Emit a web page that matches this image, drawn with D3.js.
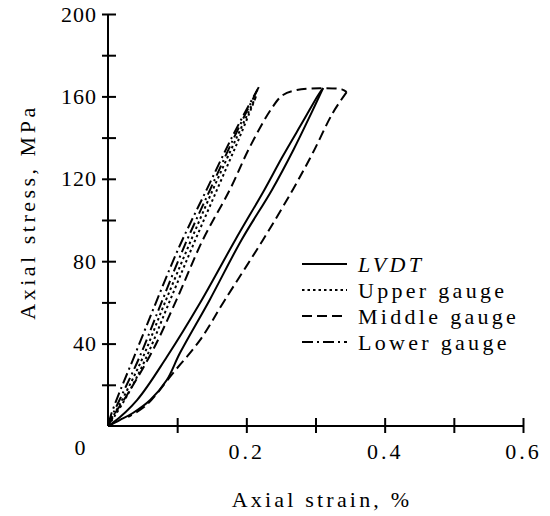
<!DOCTYPE html>
<html><head><meta charset="utf-8">
<script src="https://cdn.jsdelivr.net/npm/d3@7"></script>
<style>
body{margin:0;background:#fff;}
text{font-family:"Liberation Serif","Times New Roman",serif;fill:#000;}
</style></head>
<body><svg id="chart" width="550" height="516"></svg>
<script>
// Data: [axial strain %, axial stress MPa]
const lvdtLoad = [[0,0],[0.017,2.9],[0.036,6.3],[0.061,12.6],[0.085,22.3],[0.104,35.4],[0.147,61.2],[0.193,90.3],[0.237,114.6],[0.268,134],[0.294,151.9],[0.311,164]];
const lvdtUnload = [[0.311,164],[0.304,160.7],[0.283,148.5],[0.252,130.6],[0.226,114.6],[0.184,90.3],[0.133,59.7],[0.085,33.5],[0.042,12.6],[0.007,1.5],[0,0]];
const middleLoad = [[0,0],[0.007,4.4],[0.032,17.5],[0.065,36.9],[0.099,61.2],[0.137,90.3],[0.176,114.6],[0.205,135.4],[0.237,154.4],[0.253,160.7],[0.273,163.1],[0.306,164],[0.338,163.4],[0.345,162.1]];
const middleUnload = [[0.345,162.1],[0.325,152],[0.296,132.5],[0.267,114.6],[0.224,90.3],[0.169,61.2],[0.133,41.7],[0.094,25.7],[0.055,10],[0.029,4.4]];
const lowerLoad = [[0,0],[0.006,5],[0.02,15],[0.045,33],[0.075,58],[0.11,87],[0.148,115],[0.185,142],[0.218,164.5]];
const lowerUnload = [[0.218,164.5],[0.182,142],[0.143,115],[0.103,87],[0.067,58],[0.037,33],[0.015,15],[0.004,5],[0,0]];
const upperLoad = [[0,0],[0.01,5],[0.028,15],[0.055,33],[0.086,58],[0.122,87],[0.158,115],[0.19,140],[0.214,160]];
const upperUnload = [[0.214,160],[0.186,140],[0.152,115],[0.116,87],[0.08,58],[0.05,33],[0.024,15],[0.008,5],[0,0]];

const xTicks = [0.1,0.2,0.3,0.4,0.5,0.6];
const xTickLabels = {0.2:"0.2",0.4:"0.4",0.6:"0.6"};
const yTicks = [20,40,60,80,100,120,140,160,180,200];
const yTickLabels = {40:"40",80:"80",120:"120",160:"160",200:"200"};
const legendNames = ["LVDT","Upper gauge","Middle gauge","Lower gauge"];
const legendDash = ["none","2.5,3","10,5","11,4,2,4"];

const series = [
  {pts:lvdtLoad, dash:legendDash[0]},
  {pts:lvdtUnload, dash:legendDash[0]},
  {pts:upperLoad, dash:legendDash[1]},
  {pts:upperUnload, dash:legendDash[1]},
  {pts:middleLoad, dash:legendDash[2]},
  {pts:middleUnload, dash:legendDash[2]},
  {pts:lowerLoad, dash:legendDash[3]},
  {pts:lowerUnload, dash:legendDash[3]}
];

const svg = d3.select("#chart");
const x = d3.scaleLinear().domain([0,0.6]).range([108,523]);
const y = d3.scaleLinear().domain([0,200]).range([426,14]);

// Y axis
const ya = svg.append("g").attr("transform","translate(108,0)")
  .call(d3.axisLeft(y).tickValues(yTicks).tickSize(6).tickFormat(d=>yTickLabels[d]||""));
ya.select(".domain").attr("d",`M0,${y(0)}V${y(200)}`).attr("stroke","#000").attr("stroke-width",2);
ya.selectAll(".tick line").attr("x1",-6).attr("x2",8).attr("stroke","#000").attr("stroke-width",2);
ya.selectAll(".tick text").attr("x",-11).style("font-size","22px").style("letter-spacing","1px");

// X axis
const xa = svg.append("g").attr("transform","translate(0,426)")
  .call(d3.axisBottom(x).tickValues(xTicks).tickSize(7).tickFormat(d=>xTickLabels[d]||""));
xa.select(".domain").attr("d",`M${x(0)},0H${x(0.6)}`).attr("stroke","#000").attr("stroke-width",2);
xa.selectAll(".tick line").attr("y1",-8).attr("y2",7).attr("stroke","#000").attr("stroke-width",2);
xa.selectAll(".tick text").attr("y",17).style("font-size","22px").style("letter-spacing","3px");

// origin label
svg.append("text").attr("x",80).attr("y",455).attr("text-anchor","middle").style("font-size","22px").text("0");

// axis titles
svg.append("text").attr("x",322).attr("y",507).attr("text-anchor","middle")
  .style("font-size","22px").style("letter-spacing","3.2px").text("Axial strain, %");
svg.append("text").attr("transform","translate(35,212) rotate(-90)").attr("text-anchor","middle")
  .style("font-size","22px").style("letter-spacing","3.5px").text("Axial stress, MPa");

// curves
const line = d3.line().x(d=>x(d[0])).y(d=>y(d[1])).curve(d3.curveCatmullRom.alpha(0.5));
svg.append("g").selectAll("path").data(series).join("path")
  .attr("d",d=>line(d.pts)).attr("fill","none").attr("stroke","#000")
  .attr("stroke-width",2).attr("stroke-dasharray",d=>d.dash==="none"?null:d.dash);

// legend
const lg = svg.append("g").attr("transform","translate(302,264)");
const rows = lg.selectAll("g").data(legendNames).join("g").attr("transform",(d,i)=>`translate(0,${i*26})`);
rows.append("line").attr("x1",0).attr("x2",45).attr("stroke","#000").attr("stroke-width",2)
  .attr("stroke-dasharray",(d,i)=>legendDash[i]==="none"?null:legendDash[i]);
rows.append("text").attr("x",56).attr("dy","0.35em").style("font-size","22px").style("letter-spacing","3.3px")
  .style("font-style",(d,i)=>i===0?"italic":"normal").text(d=>d);
</script></body></html>
